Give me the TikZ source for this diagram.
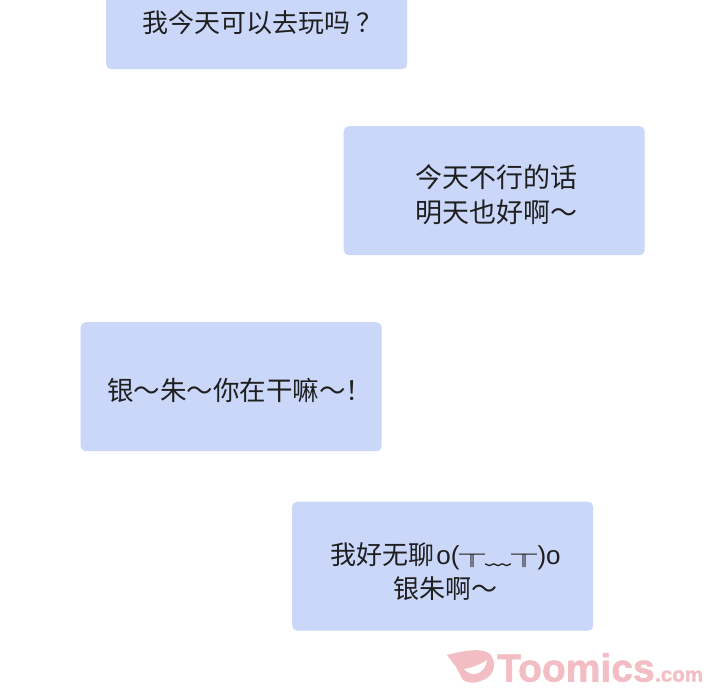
\documentclass[tikz,border=0pt]{standalone}
\usepackage{fontspec}
\setmainfont{Noto Sans CJK SC}
\newfontfamily\latinf{Liberation Sans}
\newfontfamily\wmfont[FakeBold=1.5]{Liberation Sans Bold}
\definecolor{bub}{HTML}{CAD7F9}
\definecolor{wm}{HTML}{F3BEC3}
\tikzset{
  bubble/.style={fill=bub,draw=none,rounded corners=5pt,minimum width=301pt,minimum height=129pt,inner sep=0pt,anchor=north west},
  say/.style={font=\fontsize{27}{34.5}\selectfont,text=black!88,align=center,inner sep=0pt,anchor=center},
  sayw/.style={say,anchor=west},
  small/.style={font=\fontsize{26}{34.5}\selectfont}
}
\begin{document}
\begin{tikzpicture}[x=1pt,y=-1pt]
\useasboundingbox (0,0) rectangle (720,700);
\fill[white] (0,0) rectangle (720,700);
\node[bubble] (b1) at (106,-60) {};
\node[sayw,small] (t1) at (142,23) {我今天可以去玩吗\hspace{6pt}？};
\node[bubble] (b2) at (343.5,126) {};
\node[sayw,align=left] (t2) at (415,194.5) {今天不行的话\\明天也好啊～};
\node[bubble] (b3) at (80.5,322) {};
\node[sayw,font=\fontsize{26.5}{34.5}\selectfont] (t3) at (107,390.5) {银～朱～你在干嘛～！};
\node[bubble] (b4) at (292,501.5) {};
\node[say,small] (t4) at (445.5,571.5) {我好无聊\hspace{2pt}{\latinf o(}{\fontsize{26}{26}\selectfont ╥﹏╥}{\latinf )o}\\银朱啊～};
\path[fill=wm] (447,655) .. controls (462,651) and (482,647) .. (490,654) .. controls (497,662) and (495,676) .. (483,680) .. controls (475,684) and (467,683) .. (463,680) -- (456,667) -- cycle;
\path[fill=white] (464,669) .. controls (471,668) and (480,665) .. (487,660) .. controls (486,671) and (474,680) .. (464,669) -- cycle;
\node[font=\wmfont\fontsize{39}{39}\selectfont,text=wm,anchor=base west,inner sep=0pt] (wm1) at (497,681.5) {Toomics};
\node[font=\wmfont\fontsize{20.5}{21}\selectfont,text=wm,anchor=base west,inner sep=0pt] (wm2) at (655,681.5) {.com};
\end{tikzpicture}
\end{document}
